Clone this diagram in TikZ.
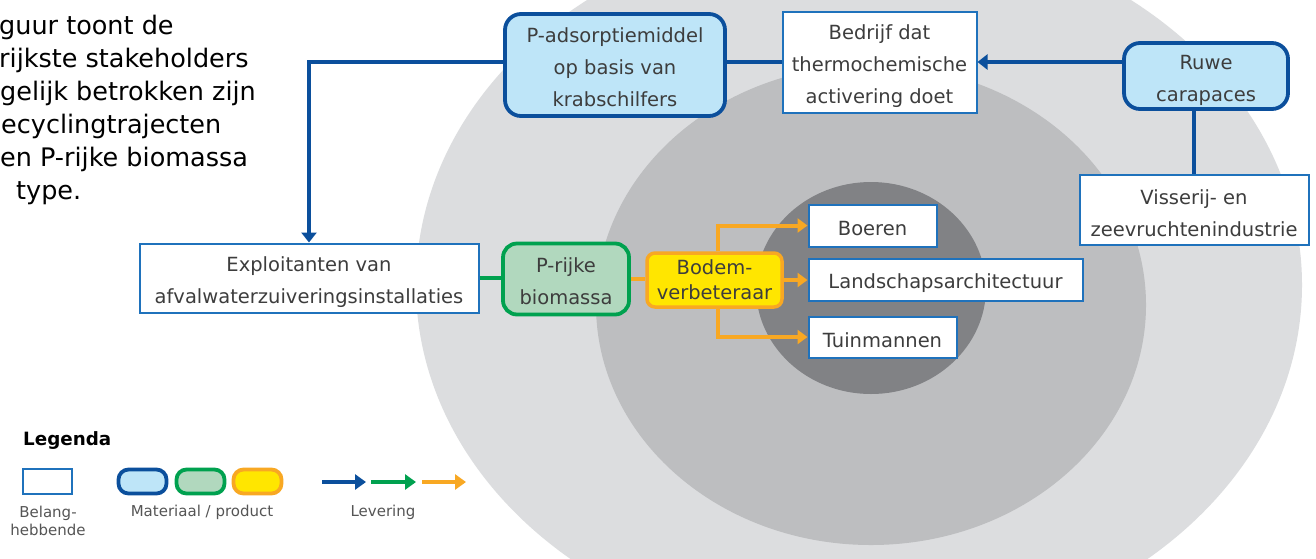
\documentclass[tikz,border=0pt]{standalone}
\usepackage{fontspec}
\setmainfont{DejaVu Sans}
\usetikzlibrary{arrows.meta,calc}
\definecolor{outerg}{HTML}{DCDDDF}
\definecolor{midg}{HTML}{BDBEC0}
\definecolor{inng}{HTML}{818285}
\definecolor{dblue}{HTML}{0B4F9C}
\definecolor{lblue}{HTML}{BEE5F8}
\definecolor{sblue}{HTML}{1F72BC}
\definecolor{dgreen}{HTML}{00A14F}
\definecolor{lgreen}{HTML}{B1D8BE}
\definecolor{orng}{HTML}{F8A823}
\definecolor{yel}{HTML}{FFE600}
\definecolor{txt}{HTML}{3D3D3D}
\definecolor{legtxt}{HTML}{555555}
\newcommand{\st}[1]{\rule{0pt}{#1pt}}
\tikzset{
  nodefont/.style={font=\fontsize{19.5}{32}\selectfont, text=txt, align=center, inner sep=0pt},
  stake/.style={nodefont, draw=sblue, line width=2pt, fill=white, rectangle},
  matb/.style={nodefont, draw=dblue, line width=3.8pt, fill=lblue, rounded corners=16pt},
  matg/.style={nodefont, draw=dgreen, line width=3.8pt, fill=lgreen, rounded corners=14pt},
  maty/.style={nodefont, draw=orng, line width=3.5pt, fill=yel, rounded corners=8pt},
  bline/.style={draw=dblue, line width=4.8pt},
  gline/.style={draw=dgreen, line width=4.5pt},
  oline/.style={draw=orng, line width=4pt},
  btip/.style={-{Triangle[length=10pt,width=15pt]}},
  otip/.style={-{Triangle[length=10pt,width=14pt]}},
  intro/.style={anchor=base west, inner sep=0pt, font=\fontsize{25.5}{33}\selectfont, text=black},
  legl/.style={font=\fontsize{15}{18}\selectfont, text=legtxt, align=center, inner sep=0pt}
}
\begin{document}
\begin{tikzpicture}[x=1pt,y=-1pt]
\useasboundingbox (0,0) rectangle (1316,558);
\fill[white] (0,0) rectangle (1316,558);
\begin{scope}
  \clip (0,0) rectangle (1316,558);
  \fill[outerg] (859,285) ellipse [x radius=443, y radius=361];
  \fill[midg] (871,305) ellipse [x radius=275, y radius=240];
  \fill[inng] (871,288) ellipse [x radius=115, y radius=106];
\end{scope}

% intro text
\node[intro] (t1) at (-1,34) {guur toont de};
\node[intro] (t2) at (-1,67) {rijkste stakeholders};
\node[intro] (t3) at (0,100) {gelijk betrokken zijn};
\node[intro] (t4) at (1,133) {ecyclingtrajecten};
\node[intro] (t5) at (0,166) {en P-rijke biomassa};
\node[intro] (t6) at (16,199) {type.};

% nodes
\node[matb, minimum width=220pt, minimum height=102pt] (pads) at (615,65) {\st{18.8}P-adsorptiemiddel\\op basis van\\krabschilfers};
\node[stake, minimum width=194pt, minimum height=101pt] (bedrijf) at (879.5,62) {\st{23.8}Bedrijf dat\\thermochemische\\activering doet};
\node[matb, minimum width=164pt, minimum height=66pt] (ruwe) at (1206,76) {\st{23.2}Ruwe\\carapaces};
\node[stake, minimum width=229pt, minimum height=70pt] (viss) at (1194,209.5) {\st{21.8}Visserij- en\\zeevruchtenindustrie};
\node[stake, minimum width=339pt, minimum height=69pt] (expl) at (309,278) {\st{22.8}Exploitanten van\\afvalwaterzuiveringsinstallaties};
\node[matg, minimum width=126pt, minimum height=71pt] (prijke) at (566,279) {\st{18.8}P-rijke\\biomassa};
\node[maty, minimum width=135pt, minimum height=54pt, font=\fontsize{19.5}{25}\selectfont] (bodem) at (714.5,280) {Bodem-\\verbeteraar};
\node[stake, minimum width=128pt, minimum height=42pt] (boeren) at (872.5,225.5) {\st{19.5}Boeren};
\node[stake, minimum width=274pt, minimum height=42pt] (land) at (945.5,279.5) {\st{22.8}Landschapsarchitectuur};
\node[stake, minimum width=148pt, minimum height=41pt] (tuin) at (882.5,337) {\st{20.8}Tuinmannen};

% connectors
\draw[bline] (viss.north) -- (viss.north |- ruwe.south);
\draw[bline,btip] (ruwe.west |- bedrijf.east) -- (bedrijf.east);
\draw[bline] (bedrijf.west) -- (pads.east |- bedrijf.west);
\draw[bline,btip] (pads.west |- bedrijf.west) -| (expl.north);
\draw[gline] (expl.east) -- (expl.east -| prijke.west);
\draw[oline] (prijke.east) -- (prijke.east -| bodem.west);
\draw[oline,otip] ($(bodem.north)+(3.5,0)$) |- (boeren.west);
\draw[oline,otip] (bodem.east) -- (bodem.east -| land.west);
\draw[oline,otip] ($(bodem.south)+(3.5,0)$) |- (tuin.west);

% legend
\node[anchor=base west, inner sep=0pt, font=\fontsize{18.3}{22}\selectfont\bfseries] (leg) at (23,445) {Legenda};
\node[draw=sblue, line width=2pt, fill=white, minimum width=49pt, minimum height=25pt, inner sep=0pt] (lstake) at (47,481) {};
\node[draw=dblue, line width=3.8pt, fill=lblue, rounded corners=10pt, minimum width=48pt, minimum height=24pt, inner sep=0pt] (lmb) at (142.5,481.5) {};
\node[draw=dgreen, line width=3.8pt, fill=lgreen, rounded corners=10pt, minimum width=48pt, minimum height=24pt, inner sep=0pt] (lmg) at (200.5,481.5) {};
\node[draw=orng, line width=3.8pt, fill=yel, rounded corners=10pt, minimum width=48pt, minimum height=24pt, inner sep=0pt] (lmy) at (257.5,481.5) {};
\coordinate (lb1) at (322,482); \coordinate (lb2) at (366,482);
\coordinate (lg1) at (371,482); \coordinate (lg2) at (416,482);
\coordinate (lo1) at (422,482); \coordinate (lo2) at (466,482);
\draw[bline,-{Triangle[length=11pt,width=15pt]}] (lb1) -- (lb2);
\draw[gline,-{Triangle[length=11pt,width=15pt]}] (lg1) -- (lg2);
\draw[oline,-{Triangle[length=11pt,width=15pt]}] (lo1) -- (lo2);
\node[legl] (lbel) at (48,521) {Belang-\\hebbende};
\node[legl, anchor=base] (lmat) at (202,516) {Materiaal / product};
\node[legl, anchor=base] (llev) at (383,516) {Levering};
\end{tikzpicture}
\end{document}
